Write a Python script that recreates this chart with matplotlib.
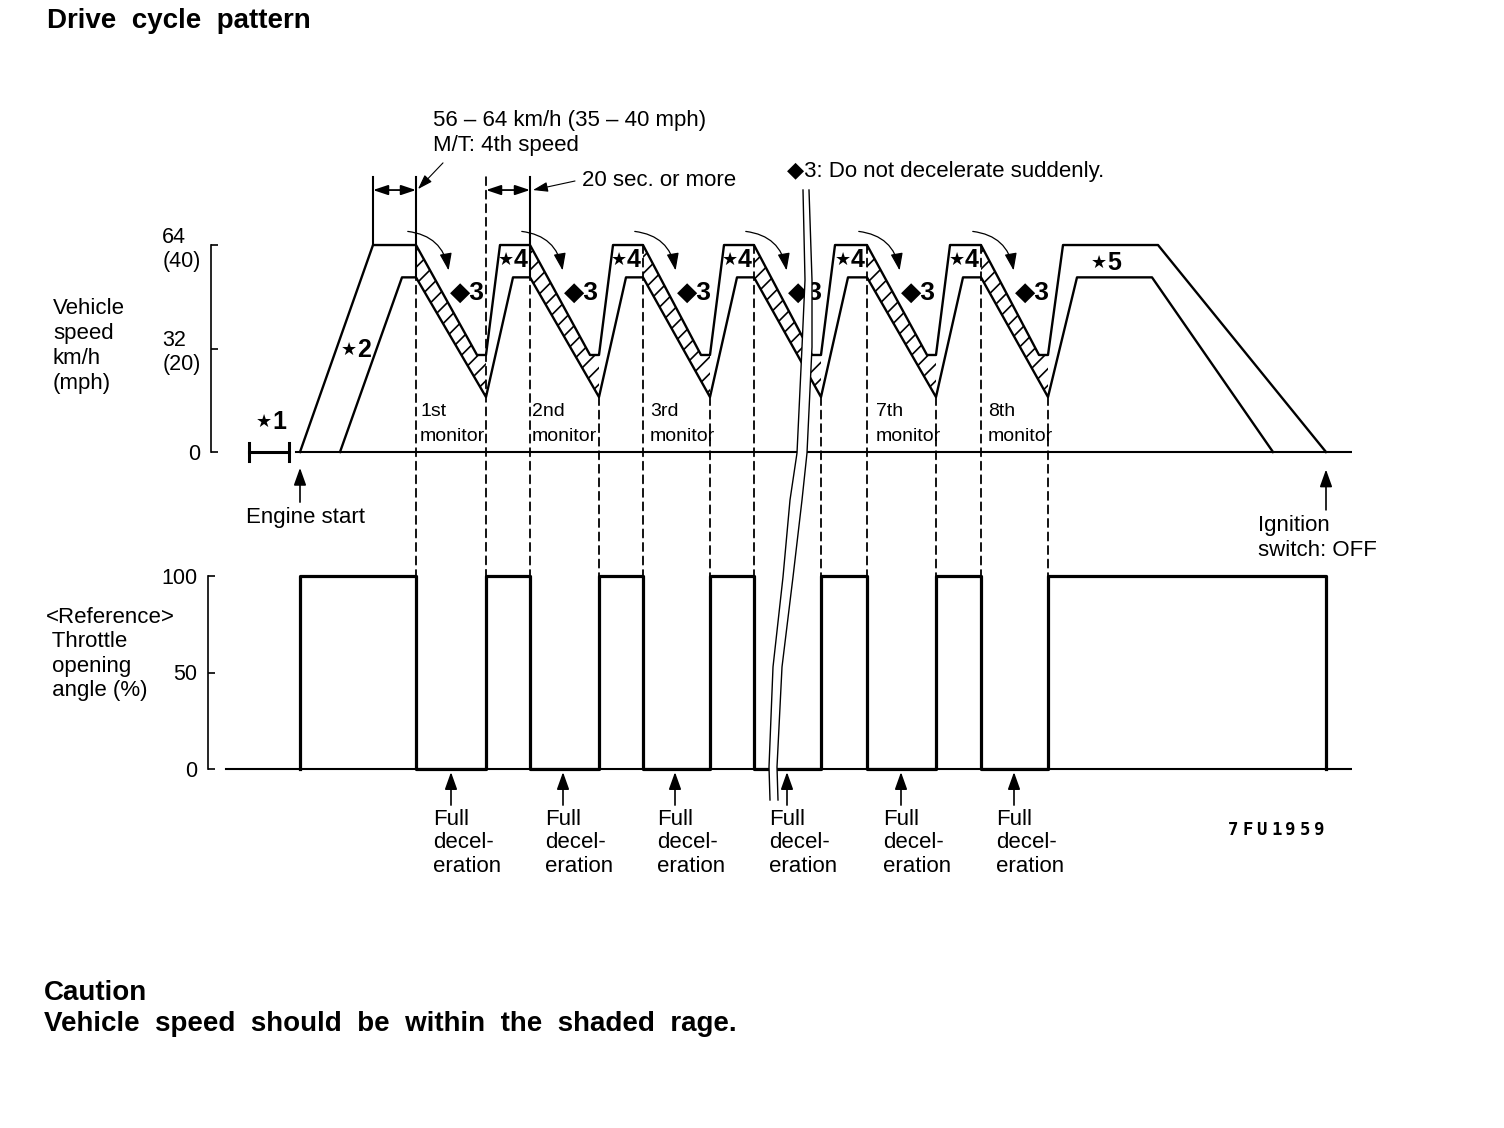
import matplotlib
matplotlib.use('Agg')
from matplotlib import pyplot as plt
from matplotlib.patches import Polygon, FancyArrowPatch, ConnectionPatch

plt.rcParams['font.family'] = ['Liberation Sans', 'DejaVu Sans']
plt.rcParams['hatch.linewidth'] = 1.2

# time in chart units (engine start = 0), speed in km/h
upper_t = [0, 73, 116, 177, 186, 200, 230, 290, 299, 313, 343, 401, 410, 424,
           454, 512, 521, 535, 567, 627, 636, 650, 681, 739, 748, 763, 858, 1026]
upper_v = [0, 64, 64, 30, 30, 64, 64, 30, 30, 64, 64, 30, 30, 64,
           64, 30, 30, 64, 64, 30, 30, 64, 64, 30, 30, 64, 64, 0]
lower_t = [40, 102, 116, 186, 213, 230, 299, 326, 343, 410, 437, 454, 521, 548,
           567, 636, 663, 681, 748, 777, 852, 973]
lower_v = [0, 54, 54, 17, 54, 54, 17, 54, 54, 17, 54, 54, 17, 54,
           54, 17, 54, 54, 17, 54, 54, 0]

# shaded band of each deceleration
peak_end_t = [116, 230, 343, 454, 567, 681]
decel_end_t = [177, 290, 401, 512, 627, 739]
valley_t = [186, 299, 410, 521, 636, 748]
band_top = [64, 30, 30]
band_bottom = [17, 54]

# throttle opening (%)
throttle_t = [0, 0, 116, 186, 230, 299, 343, 410, 454, 521, 567, 636, 681, 748, 1026]
throttle_v = [0, 100, 0, 100, 0, 100, 0, 100, 0, 100, 0, 100, 0, 100, 0]

dash_t = [116, 186, 230, 299, 343, 410, 454, 521, 567, 636, 681, 748]
dash_v = [64, 85, 64, 17, 64, 17, 64, 17, 64, 17, 64, 17]

decel_mid_t = [151, 263, 375, 487, 601, 714]
monitor_t = [120, 232, 350, 576, 688]
monitor_names = ['1st', '2nd', '3rd', '7th', '8th']

speed_ticks = [0, 32, 64]
speed_ticklabels = ['0', '32\n(20)', '64\n(40)']
throttle_ticks = [0, 50, 100]
throttle_ticklabels = ['0', '50', '100']

# break mark (figure pixels)
break_left_x = [803, 805, 802, 797, 790, 783, 773, 769, 770]
break_right_x = [809, 812, 812, 807, 802, 793, 782, 777, 778]
break_y = [190, 280, 347, 453, 500, 577, 667, 767, 800]

W, H = 1504, 1128
KMH_PX = 3.234
PCT_PX = 1.93


def box(left, top, right, bottom):
    return [left / W, 1 - bottom / H, (right - left) / W, (bottom - top) / H]


fig = plt.figure(figsize=(W / 100, H / 100), dpi=100)

ax = fig.add_axes(box(211, 150, 1352, 470))
ax.set_xlim(-89, 1052)
ax.set_ylim((452 - 470) / KMH_PX, (452 - 150) / KMH_PX)
ax2 = fig.add_axes(box(208, 560, 1352, 790))
ax2.set_xlim(-92, 1052)
ax2.set_ylim((769 - 790) / PCT_PX, (769 - 560) / PCT_PX)

for a, ticks, labels in [(ax, speed_ticks, speed_ticklabels),
                         (ax2, throttle_ticks, throttle_ticklabels)]:
    for s in ['top', 'right', 'bottom']:
        a.spines[s].set_visible(False)
    a.spines['left'].set_linewidth(1.2)
    a.spines['left'].set_bounds(ticks[0], ticks[-1])
    a.set_xticks([])
    a.set_yticks(ticks)
    a.set_yticklabels(labels)
    a.tick_params(axis='y', direction='in', length=5, width=1.2, pad=7.5,
                  labelsize=15.5)
    for lbl in a.get_yticklabels():
        lbl.set_multialignment('left')
        lbl.set_linespacing(1.2)
    a.patch.set_alpha(0)

# vehicle speed
for pe, de, vt in zip(peak_end_t, decel_end_t, valley_t):
    pts = [(pe, band_top[0]), (de, band_top[1]), (vt, band_top[2]),
           (vt, band_bottom[0]), (pe, band_bottom[1])]
    ax.add_patch(Polygon(pts, closed=True, fill=False, hatch='//',
                         edgecolor='black', lw=0, zorder=1))

ax.plot(upper_t, upper_v, color='black', lw=1.7, zorder=3)
ax.plot(lower_t, lower_v, color='black', lw=1.7, zorder=3)
ax.plot([-4, 1052], [0, 0], color='black', lw=1.5, zorder=3)

# star 1 bracket
ax.plot([-51, -11], [0, 0], color='black', lw=2.2)
ax.plot([-51, -51], [-2.8, 2.8], color='black', lw=2.2)
ax.plot([-11, -11], [-2.8, 2.8], color='black', lw=2.2)

# brackets above first peaks
for t, vb in zip([73, 116, 230], [64, 54, 54]):
    ax.plot([t, t], [vb, 85], color='black', lw=1.5)
dbl = dict(arrowstyle='<|-|>,head_length=0.6,head_width=0.2', color='black',
           lw=1.3, mutation_scale=15, shrinkA=0, shrinkB=0)
ax.annotate('', xy=(73, 81), xytext=(116, 81), arrowprops=dbl)
ax.annotate('', xy=(186, 81), xytext=(230, 81), arrowprops=dbl)
lead = dict(arrowstyle='-|>,head_length=0.6,head_width=0.2', color='black',
            lw=0.8, mutation_scale=15, shrinkA=0, shrinkB=0)
ax.annotate('', xy=(118, 81.3), xytext=(143, 89.4), arrowprops=lead)
ax.annotate('', xy=(233, 81), xytext=(275, 83.8), arrowprops=lead)

for pe in peak_end_t:
    ax.add_patch(FancyArrowPatch((pe - 11, 68.3), (pe + 33, 55.3),
                                 connectionstyle='arc3,rad=-0.4',
                                 arrowstyle='-|>,head_length=0.7,head_width=0.25',
                                 mutation_scale=15, lw=0.9, color='black'))
    ax.text(pe + 51, 49.2, '◆3', ha='center', va='center', fontsize=19,
            fontweight='bold')


def star_label(t, v, num):
    ax.text(t, v, '★', ha='right', va='center', fontsize=13,
            family='DejaVu Sans')
    ax.text(t, v, num, ha='left', va='center', fontsize=18, fontweight='bold')


for pe in peak_end_t[1:]:
    star_label(pe - 16, 59.4, '4')
star_label(57, 31.5, '2')
star_label(807, 58.4, '5')
star_label(-28, 9.3, '1')

for t, name in zip(monitor_t, monitor_names):
    ax.text(t, 8.66, name + '\nmonitor', ha='left', va='center', fontsize=14,
            linespacing=1.55)

up = dict(arrowstyle='-|>,head_length=0.7,head_width=0.25', color='black',
          lw=1.2, mutation_scale=15, shrinkA=0, shrinkB=0)
ax.annotate('', xy=(0, -4.9), xytext=(0, -15.5), arrowprops=up,
            annotation_clip=False)
ax.annotate('', xy=(1026, -5.4), xytext=(1026, -17.9), arrowprops=up,
            annotation_clip=False)

# throttle
ax2.plot([-74, 1052], [0, 0], color='black', lw=1.5)
ax2.plot(throttle_t, throttle_v, drawstyle='steps-post', color='black', lw=2.3)
for m in decel_mid_t:
    ax2.annotate('', xy=(m, -1.6), xytext=(m, -18.7), arrowprops=up,
                 annotation_clip=False)
    ax2.text(m - 18, -38.3, 'Full\ndecel-\neration', ha='left', va='center',
             fontsize=16, linespacing=1.17)

for t, v in zip(dash_t, dash_v):
    fig.add_artist(ConnectionPatch(xyA=(t, v), coordsA='data', axesA=ax,
                                   xyB=(t, 100), coordsB='data', axesB=ax2,
                                   linestyle=(0, (4.5, 3)), lw=1.3,
                                   color='black'))

# overlay for free text and the break mark
ov = fig.add_axes([0, 0, 1, 1])
ov.set_xlim(0, W)
ov.set_ylim(H, 0)
ov.axis('off')
ov.set_zorder(10)

ov.fill(break_left_x + break_right_x[::-1], break_y + break_y[::-1],
        color='white', lw=0)
ov.plot(break_left_x, break_y, color='black', lw=1.0)
ov.plot(break_right_x, break_y, color='black', lw=1.0)

ov.text(47, 21, 'Drive  cycle  pattern', fontsize=20, fontweight='bold',
        ha='left', va='center')
ov.text(433, 133, '56 – 64 km/h (35 – 40 mph)\nM/T: 4th speed', fontsize=16,
        ha='left', va='center', linespacing=1.21)
ov.text(582, 180, '20 sec. or more', fontsize=16, ha='left', va='center')
ov.text(787, 171, '◆3: Do not decelerate suddenly.', fontsize=16,
        ha='left', va='center')
ov.text(53, 346, 'Vehicle\nspeed\nkm/h\n(mph)', fontsize=16, ha='left',
        va='center', linespacing=1.235)
ov.text(246, 517, 'Engine start', fontsize=16, ha='left', va='center')
ov.text(1258, 538, 'Ignition\nswitch: OFF', fontsize=16, ha='left',
        va='center', linespacing=1.21)
ov.text(46, 654, '<Reference>\n Throttle\n opening\n angle (%)', fontsize=16,
        ha='left', va='center', linespacing=1.19)
for i, ch in enumerate('7FU1959'):
    ov.text(1228 + i * 14.3, 830, ch, fontsize=12.5, family='DejaVu Sans Mono',
            fontweight='bold', ha='left', va='center')
ov.text(44, 993, 'Caution', fontsize=20, fontweight='bold', ha='left',
        va='center')
ov.text(44, 1024, 'Vehicle  speed  should  be  within  the  shaded  rage.',
        fontsize=20, fontweight='bold', ha='left', va='center')

fig.savefig('out.png', dpi=100)
